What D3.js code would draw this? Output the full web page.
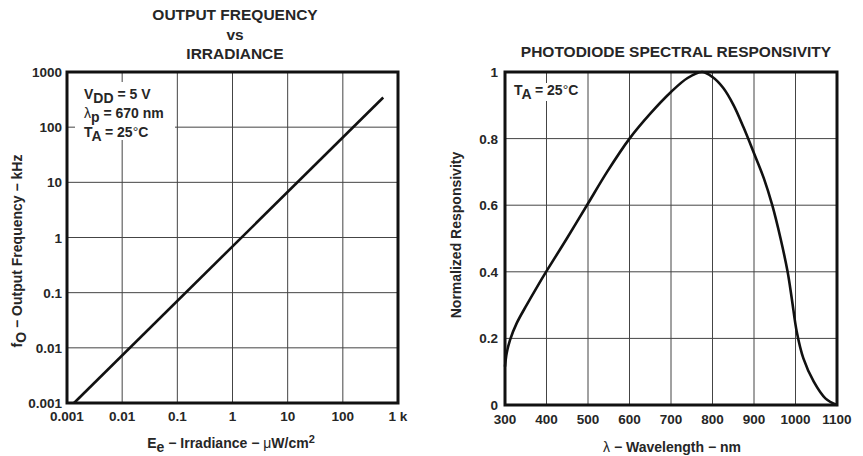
<!DOCTYPE html>
<html>
<head>
<meta charset="utf-8">
<script src="https://cdn.jsdelivr.net/npm/d3@7"></script>
<style>
  body { margin:0; background:#fff; }
  text { font-family: Arial, "Liberation Sans", sans-serif; font-weight:bold; fill:#262626; }
</style>
</head>
<body>
<script>
// left chart: output frequency vs irradiance (log-log, straight line)
var irradiance = [0.00134, 540];
var frequency = [0.001, 345];
var irrTicks = [0.001, 0.01, 0.1, 1, 10, 100, 1000];
var irrTickLabels = ['0.001', '0.01', '0.1', '1', '10', '100', '1 k'];
var freqTicks = [0.001, 0.01, 0.1, 1, 10, 100, 1000];
var freqTickLabels = ['0.001', '0.01', '0.1', '1', '10', '100', '1000'];

// right chart: photodiode spectral responsivity
var wavelength = [300, 304, 312, 328, 352, 376, 400, 449, 500, 546, 600, 650, 700, 740, 775, 800, 826, 851, 875, 900, 924, 944, 964, 981, 991, 1003, 1019, 1044, 1072, 1100];
var responsivity = [0.115, 0.155, 0.195, 0.245, 0.30, 0.352, 0.402, 0.50, 0.605, 0.70, 0.80, 0.875, 0.94, 0.982, 1.0, 0.985, 0.952, 0.90, 0.833, 0.756, 0.68, 0.60, 0.50, 0.40, 0.32, 0.22, 0.14, 0.07, 0.02, 0.0];
var waveTicks = [300, 400, 500, 600, 700, 800, 900, 1000, 1100];
var respTicks = [0, 0.2, 0.4, 0.6, 0.8, 1];
var respTickLabels = ['0', '0.2', '0.4', '0.6', '0.8', '1'];

var screen = { width:863, height:456 };
var svg = d3.select('body').append('svg')
            .attr('width', screen.width)
            .attr('height', screen.height);

var gridColor = '#444';
var tickSize = 13.5;

// ---------- left chart ----------
var left = { x0:67, x1:398, y0:72, y1:403 };
var xLog = d3.scaleLog().domain([0.001, 1000]).range([left.x0, left.x1]);
var yLog = d3.scaleLog().domain([0.001, 1000]).range([left.y1, left.y0]);

var g1 = svg.append('g').classed('left', true);

g1.selectAll('.vgrid').data(irrTicks).enter().append('line')
  .attr('x1', function(d){ return xLog(d); })
  .attr('x2', function(d){ return xLog(d); })
  .attr('y1', left.y0).attr('y2', left.y1)
  .attr('stroke', gridColor).attr('stroke-width', 1);
g1.selectAll('.hgrid').data(freqTicks).enter().append('line')
  .attr('x1', left.x0).attr('x2', left.x1)
  .attr('y1', function(d){ return yLog(d); })
  .attr('y2', function(d){ return yLog(d); })
  .attr('stroke', gridColor).attr('stroke-width', 1);

// white box behind the conditions
g1.append('rect')
  .attr('x', 75).attr('y', 82)
  .attr('width', 100).attr('height', 58)
  .attr('fill', '#fff');

var lineLog = d3.line()
  .x(function(d){ return xLog(d[0]); })
  .y(function(d){ return yLog(d[1]); });
g1.append('path')
  .datum(d3.zip(irradiance, frequency))
  .attr('d', lineLog)
  .attr('fill', 'none')
  .attr('stroke', '#111')
  .attr('stroke-width', 2.6);

g1.append('rect')
  .attr('x', left.x0).attr('y', left.y0)
  .attr('width', left.x1 - left.x0).attr('height', left.y1 - left.y0)
  .attr('fill', 'none').attr('stroke', '#111').attr('stroke-width', 3);

g1.selectAll('.xlab').data(irrTicks).enter().append('text')
  .attr('x', function(d){ return xLog(d); })
  .attr('y', 421)
  .attr('text-anchor', 'middle')
  .attr('font-size', tickSize)
  .text(function(d, i){ return irrTickLabels[i]; });
g1.selectAll('.ylab').data(freqTicks).enter().append('text')
  .attr('x', left.x0 - 5)
  .attr('y', function(d){ return yLog(d) + 5; })
  .attr('text-anchor', 'end')
  .attr('font-size', tickSize)
  .text(function(d, i){ return freqTickLabels[i]; });

// title
var t1 = ['OUTPUT FREQUENCY', 'vs', 'IRRADIANCE'];
g1.selectAll('.title').data(t1).enter().append('text')
  .attr('x', 235)
  .attr('y', function(d, i){ return 20 + i * 19.5; })
  .attr('text-anchor', 'middle')
  .attr('font-size', 15.5)
  .text(function(d){ return d; });

// conditions
var cond = g1.append('g').attr('font-size', 14);
var c1 = cond.append('text').attr('x', 84).attr('y', 99);
c1.append('tspan').text('V');
c1.append('tspan').attr('dy', 4).text('DD');
c1.append('tspan').attr('dy', -4).text(' = 5 V');
var c2 = cond.append('text').attr('x', 84).attr('y', 118);
c2.append('tspan').attr('font-weight', 'normal').text('λ');
c2.append('tspan').attr('dy', 4).text('p');
c2.append('tspan').attr('dy', -4).text(' = 670 nm');
var c3 = cond.append('text').attr('x', 84).attr('y', 137);
c3.append('tspan').text('T');
c3.append('tspan').attr('dy', 4).text('A');
c3.append('tspan').attr('dy', -4).text(' = 25');
c3.append('tspan').attr('font-weight', 'normal').text('°');
c3.append('tspan').text('C');

// axis titles
var xt1 = g1.append('text').attr('x', 231).attr('y', 448)
  .attr('text-anchor', 'middle').attr('font-size', 14);
xt1.append('tspan').text('E');
xt1.append('tspan').attr('dy', 4).text('e');
xt1.append('tspan').attr('dy', -4).text(' − Irradiance − ');
xt1.append('tspan').attr('font-weight', 'normal').text('μ');
xt1.append('tspan').text('W/cm');
xt1.append('tspan').attr('dy', -5).attr('font-size', 11).text('2');

var yt1 = g1.append('text')
  .attr('transform', 'translate(22,251) rotate(-90)')
  .attr('text-anchor', 'middle').attr('font-size', 14);
yt1.append('tspan').text('f');
yt1.append('tspan').attr('dy', 4).text('O');
yt1.append('tspan').attr('dy', -4).text(' − Output Frequency − kHz');

// ---------- right chart ----------
var right = { x0:505, x1:837, y0:72, y1:405 };
var xLin = d3.scaleLinear().domain([300, 1100]).range([right.x0, right.x1]);
var yLin = d3.scaleLinear().domain([0, 1]).range([right.y1, right.y0]);

var g2 = svg.append('g').classed('right', true);

g2.selectAll('.vgrid').data(waveTicks).enter().append('line')
  .attr('x1', function(d){ return xLin(d); })
  .attr('x2', function(d){ return xLin(d); })
  .attr('y1', right.y0).attr('y2', right.y1)
  .attr('stroke', gridColor).attr('stroke-width', 1);
g2.selectAll('.hgrid').data(respTicks).enter().append('line')
  .attr('x1', right.x0).attr('x2', right.x1)
  .attr('y1', function(d){ return yLin(d); })
  .attr('y2', function(d){ return yLin(d); })
  .attr('stroke', gridColor).attr('stroke-width', 1);

g2.append('rect')
  .attr('x', 512).attr('y', 83)
  .attr('width', 70).attr('height', 18)
  .attr('fill', '#fff');

var lineLin = d3.line()
  .x(function(d){ return xLin(d[0]); })
  .y(function(d){ return yLin(d[1]); })
  .curve(d3.curveCatmullRom.alpha(0.5));
g2.append('path')
  .datum(d3.zip(wavelength, responsivity))
  .attr('d', lineLin)
  .attr('fill', 'none')
  .attr('stroke', '#111')
  .attr('stroke-width', 2.6);

g2.append('rect')
  .attr('x', right.x0).attr('y', right.y0)
  .attr('width', right.x1 - right.x0).attr('height', right.y1 - right.y0)
  .attr('fill', 'none').attr('stroke', '#111').attr('stroke-width', 3);

g2.selectAll('.xlab').data(waveTicks).enter().append('text')
  .attr('x', function(d){ return xLin(d); })
  .attr('y', 424)
  .attr('text-anchor', 'middle')
  .attr('font-size', tickSize)
  .text(function(d){ return d; });
g2.selectAll('.ylab').data(respTicks).enter().append('text')
  .attr('x', right.x0 - 7)
  .attr('y', function(d){ return yLin(d) + 5; })
  .attr('text-anchor', 'end')
  .attr('font-size', tickSize)
  .text(function(d, i){ return respTickLabels[i]; });

g2.append('text')
  .attr('x', 676).attr('y', 57)
  .attr('text-anchor', 'middle')
  .attr('font-size', 15.5)
  .text('PHOTODIODE SPECTRAL RESPONSIVITY');

var c4 = g2.append('text').attr('x', 514).attr('y', 95).attr('font-size', 14);
c4.append('tspan').text('T');
c4.append('tspan').attr('dy', 4).text('A');
c4.append('tspan').attr('dy', -4).text(' = 25');
c4.append('tspan').attr('font-weight', 'normal').text('°');
c4.append('tspan').text('C');

var xt2 = g2.append('text').attr('x', 672).attr('y', 452)
  .attr('text-anchor', 'middle').attr('font-size', 14);
xt2.append('tspan').attr('font-weight', 'normal').text('λ');
xt2.append('tspan').text(' − Wavelength − nm');

g2.append('text')
  .attr('transform', 'translate(461,235) rotate(-90)')
  .attr('text-anchor', 'middle').attr('font-size', 14)
  .text('Normalized Responsivity');
</script>
</body>
</html>
